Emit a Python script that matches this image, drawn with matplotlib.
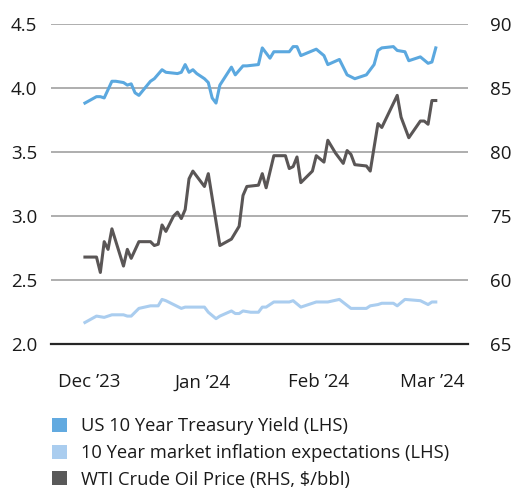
"""Treasury yield, inflation expectations and WTI crude, Dec '23 - Mar '24."""
import matplotlib
matplotlib.use("Agg")
import matplotlib.pyplot as plt
from matplotlib.patches import Patch

plt.rcParams["font.family"] = ["Open Sans", "DejaVu Sans"]

# ---------- data (x = days since 1 Dec 2023) ----------

UST_DAY = [0, 3, 4, 5, 7, 8, 10, 11, 12, 13, 14, 17, 18, 20, 21, 24, 25, 26,
           27, 28, 29, 31, 32, 33, 34, 35, 38, 39, 41, 42, 45, 46, 48, 49, 53,
           54, 55, 56, 60, 62, 63, 66, 68, 70, 73, 75, 76, 77, 80, 81, 83, 84,
           87, 89, 90, 91]
UST_VAL = [3.88, 3.93, 3.93, 3.92, 4.05, 4.05, 4.04, 4.02, 4.03, 3.96, 3.94,
           4.05, 4.07, 4.14, 4.12, 4.11, 4.12, 4.18, 4.12, 4.14, 4.11, 4.07,
           4.04, 3.92, 3.88, 4.02, 4.16, 4.10, 4.17, 4.17, 4.18, 4.31, 4.23,
           4.28, 4.28, 4.32, 4.32, 4.25, 4.30, 4.25, 4.18, 4.22, 4.10, 4.07,
           4.10, 4.18, 4.29, 4.31, 4.32, 4.29, 4.28, 4.21, 4.24, 4.19, 4.20,
           4.31]

BEI_DAY = [0, 3, 5, 7, 10, 11, 12, 14, 17, 19, 20, 21, 25, 26, 28, 31, 32, 34,
           35, 38, 39, 40, 41, 43, 45, 46, 47, 49, 51, 53, 54, 56, 60, 63, 66,
           69, 70, 73, 74, 76, 77, 80, 81, 83, 87, 89, 90, 91]
BEI_VAL = [2.17, 2.22, 2.21, 2.23, 2.23, 2.22, 2.22, 2.28, 2.30, 2.30, 2.35,
           2.34, 2.28, 2.29, 2.29, 2.29, 2.25, 2.20, 2.22, 2.26, 2.24, 2.24,
           2.26, 2.25, 2.25, 2.29, 2.29, 2.33, 2.33, 2.33, 2.34, 2.29, 2.33,
           2.33, 2.35, 2.28, 2.28, 2.28, 2.30, 2.31, 2.32, 2.32, 2.30, 2.35,
           2.34, 2.31, 2.33, 2.33]

OIL_DAY = [0, 3, 4, 5, 6, 7, 10, 11, 12, 14, 17, 18, 19, 20, 21, 23, 24, 25,
           26, 27, 28, 31, 32, 35, 38, 40, 41, 42, 45, 46, 47, 49, 52, 53, 54,
           55, 56, 59, 60, 62, 63, 65, 67, 68, 69, 70, 73, 74, 76, 77, 81, 82,
           84, 87, 88, 89, 90, 91]
OIL_VAL = [71.8, 71.8, 70.6, 73.0, 72.4, 74.0, 71.1, 72.4, 71.7, 73.0, 73.0,
           72.7, 72.8, 74.3, 73.8, 75.0, 75.3, 74.8, 75.5, 77.9, 78.5, 77.3,
           78.3, 72.7, 73.2, 74.2, 76.6, 77.3, 77.4, 78.3, 77.2, 79.7, 79.7,
           78.7, 78.85, 79.6, 77.6, 78.5, 79.7, 79.2, 80.9, 79.9, 79.1, 80.1,
           79.8, 79.0, 78.9, 78.5, 82.2, 81.9, 84.4, 82.7, 81.1, 82.4, 82.4,
           82.15, 84.0, 84.0]

TICK_POS = [1, 30.5, 60.5, 90]
TICK_LABELS = ["Dec \u201923", "Jan \u201924", "Feb \u201924", "Mar \u201924"]
LEFT_TICKS = [2.0, 2.5, 3.0, 3.5, 4.0, 4.5]
RIGHT_TICKS = [65, 70, 75, 80, 85, 90]
RIGHT_LABELS = ["65", "60", "75", "80", "85", "90"]   # as printed on the source

LABELS = ["US 10 Year Treasury Yield (LHS)",
          "10 Year market inflation expectations (LHS)",
          "WTI Crude Oil Price (RHS, $/bbl)"]
COLORS = {"ust": "#5ba8df", "bei": "#aacdef", "oil": "#5a5656"}
LEGEND_COLORS = ["#62aae0", "#aacdef", "#595959"]

FS = 13.5
FS_LEG = 13.2
TEXT = "#1a1a1a"

# ---------- plot ----------

fig = plt.figure(figsize=(5.11, 4.90), dpi=100)
ax = fig.add_axes([0.0998, 0.2973, 0.816, 0.6547])
ax2 = ax.twinx()

ax.set_xlim(-8.8, 99.35)
ax.set_ylim(2.0, 4.5)
ax2.set_ylim(65, 90)

ax.set_yticks(LEFT_TICKS)
ax.set_yticklabels([f"{v:.1f}" for v in LEFT_TICKS], fontsize=FS, color=TEXT)
ax2.set_yticks(RIGHT_TICKS)
ax2.set_yticklabels(RIGHT_LABELS, fontsize=FS, color=TEXT)
ax.set_xticks(TICK_POS)
ax.set_xticklabels(TICK_LABELS, fontsize=FS, color=TEXT)

ax.tick_params(axis="both", length=0)
ax.tick_params(axis="y", pad=10)
ax.tick_params(axis="x", pad=21)
ax2.tick_params(axis="y", length=0, pad=16)

for a in (ax, ax2):
    for s in ("top", "left", "right"):
        a.spines[s].set_visible(False)
ax.spines["bottom"].set_color("#262626")
ax.spines["bottom"].set_linewidth(1.6)
ax2.spines["bottom"].set_visible(False)

ax.grid(axis="y", color="#a8a8a8", linewidth=1.3)
ax.set_axisbelow(True)

ax.plot(UST_DAY, UST_VAL, color=COLORS["ust"], linewidth=2.2, zorder=3)
ax.plot(BEI_DAY, BEI_VAL, color=COLORS["bei"], linewidth=2.2, zorder=3)
ax2.plot(OIL_DAY, OIL_VAL, color=COLORS["oil"], linewidth=2.2, zorder=3)

handles = [Patch(facecolor=c, edgecolor="none") for c in LEGEND_COLORS]
fig.legend(handles, LABELS, loc="upper left", bbox_to_anchor=(0.088, 0.163),
           frameon=False, fontsize=FS_LEG, handlelength=0.8, handleheight=0.8,
           handletextpad=0.75, labelspacing=0.47, borderaxespad=0,
           labelcolor=TEXT)

fig.savefig("out.png", dpi=100)
